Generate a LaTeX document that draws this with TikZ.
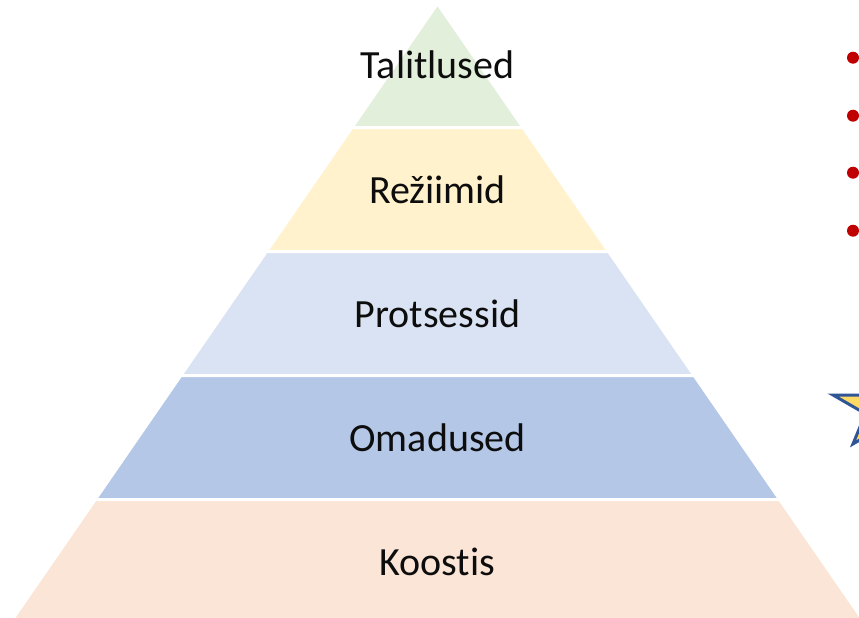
\documentclass[tikz,border=0pt]{standalone}
\usepackage{fontspec}
\setmainfont[RawFeature={-liga;-clig;-calt;-dlig}]{Carlito}
\definecolor{lvgreen}{HTML}{E2EFDA}
\definecolor{lvyellow}{HTML}{FFF2CC}
\definecolor{lvpale}{HTML}{DAE3F3}
\definecolor{lvblue}{HTML}{B4C7E7}
\definecolor{lvpeach}{HTML}{FBE5D6}
\definecolor{dotred}{HTML}{C00000}
\definecolor{starfill}{HTML}{FFD966}
\definecolor{starline}{HTML}{2F5597}
\tikzset{
  layerbox/.style={draw=white, line width=3pt, line join=miter},
  layertext/.style={font=\fontsize{40}{48}\selectfont, text=black!95},
  bulletdot/.style={circle, fill=dotred, inner sep=0pt, minimum size=12pt},
  starshape/.style={fill=starfill, draw=starline, line width=3pt, line join=miter}
}
% one trapezoid slice of the pyramid between heights #1 and #2
\newcommand{\pyrlayer}[3]{%
  \fill[#3] ({437.5-0.69*(#1-3.5)},#1) -- ({437.5+0.69*(#1-3.5)},#1)
    -- ({437.5+0.69*(#2-3.5)},#2) -- ({437.5-0.69*(#2-3.5)},#2) -- cycle;
  \draw[layerbox] ({437.5-0.69*(#1-3.5)},#1) -- ({437.5+0.69*(#1-3.5)},#1)
    -- ({437.5+0.69*(#2-3.5)},#2) -- ({437.5-0.69*(#2-3.5)},#2) -- cycle;}
\begin{document}
\begin{tikzpicture}[x=1pt, y=-1pt]
  \useasboundingbox (0,0) rectangle (859,618);
  \clip (0,0) rectangle (859,618);
  \fill[white] (0,0) rectangle (859,618);

  % pyramid layers, top to bottom
  \pyrlayer{3.5}{127.5}{lvgreen}
  \pyrlayer{127.5}{251.5}{lvyellow}
  \pyrlayer{251.5}{375.5}{lvpale}
  \pyrlayer{375.5}{499.5}{lvblue}
  \pyrlayer{499.5}{623.5}{lvpeach}

  % a zero kern keeps "t" and "i" as separate glyphs
  \node[layertext] (talitlused) at (437.5,65) {Tali\kern0pt tlused};
  \node[layertext] (reziimid)   at (437.5,189.5) {Režiimid};
  \node[layertext] (protsessid) at (437.5,313.5) {Protsessid};
  \node[layertext] (omadused)   at (437.5,437.5) {Omadused};
  \node[layertext] (koostis)    at (437.5,561.5) {Koost\kern0.6pt is};

  % bullet points on the right
  \node[bulletdot] (b1) at (853,57.7) {};
  \node[bulletdot] (b2) at (853,115.7) {};
  \node[bulletdot] (b3) at (853,172.7) {};
  \node[bulletdot] (b4) at (853,230.7) {};

  % star at the right edge
  \begin{scope}[xshift=3pt]
  \draw[starshape] (882.5,364.8) -- (870.1,395) -- (830,395) -- (862.4,413.7)
    -- (850,443.9) -- (882.5,425.2) -- (915,443.9) -- (902.6,413.7)
    -- (935,395) -- (894.9,395) -- cycle;
  \end{scope}
\end{tikzpicture}
\end{document}
